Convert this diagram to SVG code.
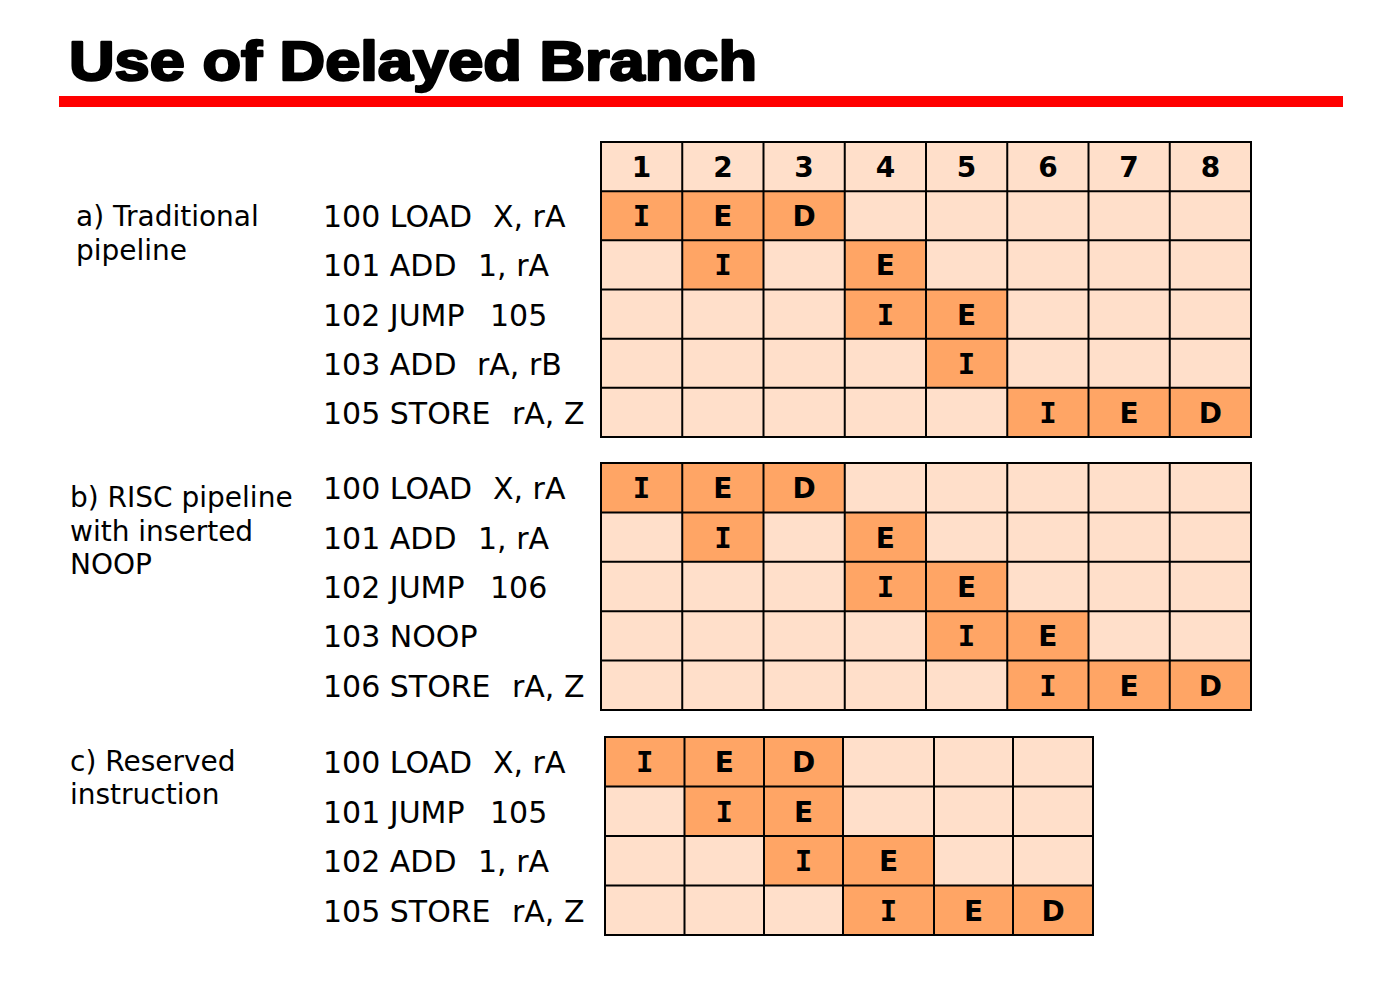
<svg xmlns="http://www.w3.org/2000/svg" width="1380" height="999" viewBox="0 0 1380 999">
  <style>
    .title { font-family: "Liberation Sans", Arial, sans-serif; font-weight: bold; font-size: 56px; fill: #000; stroke: #000; stroke-width: 2.4px; stroke-linejoin: round; }
    .lbl { font-family: "DejaVu Sans", Verdana, sans-serif; font-size: 28px; fill: #000; }
    .ins { font-family: "DejaVu Sans", Verdana, sans-serif; font-size: 30px; fill: #000; }
    .cell { font-family: "DejaVu Sans", Verdana, sans-serif; font-weight: bold; font-size: 28px; fill: #000; text-anchor: middle; }
    .cell.i { font-family: "DejaVu Sans Mono", "Liberation Mono", monospace; font-size: 29px; }
    .lt { fill: #FFDFCA; }
    .dk { fill: #FFA565; }
    .grid { fill: none; stroke: #000; stroke-width: 2; }
  </style>

  <!-- heading -->
  <g id="title">
    <text class="title" x="69" y="80" textLength="688" lengthAdjust="spacingAndGlyphs">Use of Delayed Branch</text>
    <rect x="59" y="96" width="1284" height="11" fill="#FF0000"/>
  </g>

  <!-- section labels -->
  <g id="label-a">
    <text class="lbl" x="76" y="226">a) Traditional</text>
    <text class="lbl" x="76" y="260">pipeline</text>
  </g>
  <g id="label-b">
    <text class="lbl" x="70" y="507">b) RISC pipeline</text>
    <text class="lbl" x="70" y="541">with inserted</text>
    <text class="lbl" x="70" y="574">NOOP</text>
  </g>
  <g id="label-c">
    <text class="lbl" x="70" y="771">c) Reserved</text>
    <text class="lbl" x="70" y="804">instruction</text>
  </g>

  <!-- instruction listings -->
  <g id="instr-a">
    <text class="ins" y="227.3"><tspan x="323">100 LOAD</tspan><tspan x="493">X, rA</tspan></text>
    <text class="ins" y="276.4"><tspan x="323">101 ADD</tspan><tspan x="478">1, rA</tspan></text>
    <text class="ins" y="325.6"><tspan x="323">102 JUMP</tspan><tspan x="490">105</tspan></text>
    <text class="ins" y="374.8"><tspan x="323">103 ADD</tspan><tspan x="477">rA, rB</tspan></text>
    <text class="ins" y="423.9"><tspan x="323">105 STORE</tspan><tspan x="512">rA, Z</tspan></text>
  </g>
  <g id="instr-b">
    <text class="ins" y="499.2"><tspan x="323">100 LOAD</tspan><tspan x="493">X, rA</tspan></text>
    <text class="ins" y="548.6"><tspan x="323">101 ADD</tspan><tspan x="478">1, rA</tspan></text>
    <text class="ins" y="598"><tspan x="323">102 JUMP</tspan><tspan x="490">106</tspan></text>
    <text class="ins" y="647.4"><tspan x="323">103 NOOP</tspan></text>
    <text class="ins" y="696.8"><tspan x="323">106 STORE</tspan><tspan x="512">rA, Z</tspan></text>
  </g>
  <g id="instr-c">
    <text class="ins" y="773.2"><tspan x="323">100 LOAD</tspan><tspan x="493">X, rA</tspan></text>
    <text class="ins" y="822.7"><tspan x="323">101 JUMP</tspan><tspan x="490">105</tspan></text>
    <text class="ins" y="872.2"><tspan x="323">102 ADD</tspan><tspan x="478">1, rA</tspan></text>
    <text class="ins" y="921.7"><tspan x="323">105 STORE</tspan><tspan x="512">rA, Z</tspan></text>
  </g>

  <!-- table a: traditional pipeline -->
  <g id="table-a">
    <rect class="lt" x="601" y="142" width="650" height="295"/>
    <rect class="dk" x="601" y="191.2" width="81.25" height="49.1"/>
    <rect class="dk" x="682.25" y="191.2" width="81.25" height="49.1"/>
    <rect class="dk" x="763.5" y="191.2" width="81.25" height="49.1"/>
    <rect class="dk" x="682.25" y="240.3" width="81.25" height="49.2"/>
    <rect class="dk" x="844.75" y="240.3" width="81.25" height="49.2"/>
    <rect class="dk" x="844.75" y="289.5" width="81.25" height="49.2"/>
    <rect class="dk" x="926" y="289.5" width="81.25" height="49.2"/>
    <rect class="dk" x="926" y="338.7" width="81.25" height="49.1"/>
    <rect class="dk" x="1007.25" y="387.8" width="81.25" height="49.2"/>
    <rect class="dk" x="1088.5" y="387.8" width="81.25" height="49.2"/>
    <rect class="dk" x="1169.75" y="387.8" width="81.25" height="49.2"/>
    <path class="grid" d="M601 142H1251V437H601Z M682.25 142V437 M763.5 142V437 M844.75 142V437 M926 142V437 M1007.25 142V437 M1088.5 142V437 M1169.75 142V437 M601 191.2H1251 M601 240.3H1251 M601 289.5H1251 M601 338.7H1251 M601 387.8H1251"/>
    <text class="cell" x="641.6" y="177">1</text>
    <text class="cell" x="722.9" y="177">2</text>
    <text class="cell" x="804.1" y="177">3</text>
    <text class="cell" x="885.4" y="177">4</text>
    <text class="cell" x="966.6" y="177">5</text>
    <text class="cell" x="1047.9" y="177">6</text>
    <text class="cell" x="1129.1" y="177">7</text>
    <text class="cell" x="1210.4" y="177">8</text>
    <text class="cell i" x="641.6" y="226.2">I</text>
    <text class="cell" x="722.9" y="226.2">E</text>
    <text class="cell" x="804.1" y="226.2">D</text>
    <text class="cell i" x="722.9" y="275.3">I</text>
    <text class="cell" x="885.4" y="275.3">E</text>
    <text class="cell i" x="885.4" y="324.5">I</text>
    <text class="cell" x="966.6" y="324.5">E</text>
    <text class="cell i" x="966.6" y="373.7">I</text>
    <text class="cell i" x="1047.9" y="422.8">I</text>
    <text class="cell" x="1129.1" y="422.8">E</text>
    <text class="cell" x="1210.4" y="422.8">D</text>
  </g>

  <!-- table b: pipeline with inserted NOOP -->
  <g id="table-b">
    <rect class="lt" x="601" y="463" width="650" height="247"/>
    <rect class="dk" x="601" y="463" width="81.25" height="49.4"/>
    <rect class="dk" x="682.25" y="463" width="81.25" height="49.4"/>
    <rect class="dk" x="763.5" y="463" width="81.25" height="49.4"/>
    <rect class="dk" x="682.25" y="512.4" width="81.25" height="49.4"/>
    <rect class="dk" x="844.75" y="512.4" width="81.25" height="49.4"/>
    <rect class="dk" x="844.75" y="561.8" width="81.25" height="49.4"/>
    <rect class="dk" x="926" y="561.8" width="81.25" height="49.4"/>
    <rect class="dk" x="926" y="611.2" width="81.25" height="49.4"/>
    <rect class="dk" x="1007.25" y="611.2" width="81.25" height="49.4"/>
    <rect class="dk" x="1007.25" y="660.6" width="81.25" height="49.4"/>
    <rect class="dk" x="1088.5" y="660.6" width="81.25" height="49.4"/>
    <rect class="dk" x="1169.75" y="660.6" width="81.25" height="49.4"/>
    <path class="grid" d="M601 463H1251V710H601Z M682.25 463V710 M763.5 463V710 M844.75 463V710 M926 463V710 M1007.25 463V710 M1088.5 463V710 M1169.75 463V710 M601 512.4H1251 M601 561.8H1251 M601 611.2H1251 M601 660.6H1251"/>
    <text class="cell i" x="641.6" y="498.1">I</text>
    <text class="cell" x="722.9" y="498.1">E</text>
    <text class="cell" x="804.1" y="498.1">D</text>
    <text class="cell i" x="722.9" y="547.5">I</text>
    <text class="cell" x="885.4" y="547.5">E</text>
    <text class="cell i" x="885.4" y="596.9">I</text>
    <text class="cell" x="966.6" y="596.9">E</text>
    <text class="cell i" x="966.6" y="646.3">I</text>
    <text class="cell" x="1047.9" y="646.3">E</text>
    <text class="cell i" x="1047.9" y="695.7">I</text>
    <text class="cell" x="1129.1" y="695.7">E</text>
    <text class="cell" x="1210.4" y="695.7">D</text>
  </g>

  <!-- table c: reserved instruction -->
  <g id="table-c">
    <rect class="lt" x="605" y="737" width="488" height="198"/>
    <rect class="dk" x="605" y="737" width="79.5" height="49.5"/>
    <rect class="dk" x="684.5" y="737" width="79.5" height="49.5"/>
    <rect class="dk" x="764" y="737" width="79" height="49.5"/>
    <rect class="dk" x="684.5" y="786.5" width="79.5" height="49.5"/>
    <rect class="dk" x="764" y="786.5" width="79" height="49.5"/>
    <rect class="dk" x="764" y="836" width="79" height="49.5"/>
    <rect class="dk" x="843" y="836" width="91" height="49.5"/>
    <rect class="dk" x="843" y="885.5" width="91" height="49.5"/>
    <rect class="dk" x="934" y="885.5" width="79" height="49.5"/>
    <rect class="dk" x="1013" y="885.5" width="80" height="49.5"/>
    <path class="grid" d="M605 737H1093V935H605Z M684.5 737V935 M764 737V935 M843 737V935 M934 737V935 M1013 737V935 M605 786.5H1093 M605 836H1093 M605 885.5H1093"/>
    <text class="cell i" x="644.75" y="772.2">I</text>
    <text class="cell" x="724.25" y="772.2">E</text>
    <text class="cell" x="803.5" y="772.2">D</text>
    <text class="cell i" x="724.25" y="821.7">I</text>
    <text class="cell" x="803.5" y="821.7">E</text>
    <text class="cell i" x="803.5" y="871.2">I</text>
    <text class="cell" x="888.5" y="871.2">E</text>
    <text class="cell i" x="888.5" y="920.7">I</text>
    <text class="cell" x="973.5" y="920.7">E</text>
    <text class="cell" x="1053" y="920.7">D</text>
  </g>
</svg>
